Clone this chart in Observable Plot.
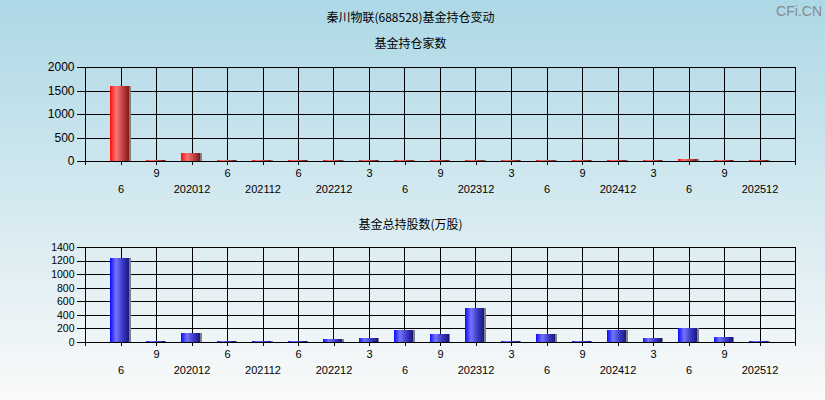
<!DOCTYPE html>
<html><head><meta charset="utf-8">
<script src="https://cdn.jsdelivr.net/npm/d3@7"></script>
<script src="https://cdn.jsdelivr.net/npm/@observablehq/plot@0.6"></script>
<style>
body{margin:0;}
#wrap{position:relative;width:825px;height:400px;background:linear-gradient(to bottom,#add8e6 0%,#fafafa 100%);overflow:hidden;font-family:"Noto Sans CJK SC","Noto Sans",sans-serif;}
.t{position:absolute;left:-2px;width:825px;text-align:center;font-size:12px;line-height:14px;color:#000;}
.wm{position:absolute;right:3px;top:3px;font-family:"Liberation Sans",Arial,sans-serif;font-size:14px;color:#8a8a8a;}
.p{position:absolute;left:0;}
.p line, .p rect, .p path{shape-rendering:crispEdges;}
</style></head>
<body>
<div id="wrap">
  <div class="t" style="top:10px">秦川物联(688528)基金持仓变动</div>
  <div class="t" style="top:36px">基金持仓家数</div>
  <div class="t" style="top:217px">基金总持股数(万股)</div>
  <div class="wm">CFi.CN</div>
  <div class="p" id="c1" style="top:0"></div>
  <div class="p" id="c2" style="top:200px"></div>
</div>
<script>
const periods = ["2020-06","2020-09","2020-12","2021-06","2021-12","2022-06","2022-12","2023-03","2023-06","2023-09","2023-12","2024-03","2024-06","2024-09","2024-12","2025-03","2025-06","2025-09","2025-12"];
const tickLabels = ["6","9","202012","6","202112","6","202212","3","6","9","202312","3","6","9","202412","3","6","9","202512"];
const fundCounts = [1590, 20, 172, 18, 15, 14, 16, 18, 20, 18, 22, 15, 20, 14, 22, 18, 48, 20, 16];
const fundShares = [1240, 14, 130, 12, 12, 12, 48, 65, 184, 116, 500, 12, 116, 12, 183, 63, 205, 80, 12];
const countTicks = [0, 500, 1000, 1500, 2000];
const shareTicks = [0, 200, 400, 600, 800, 1000, 1200, 1400];

const gradients = {
  gRed: [["0%","#ff0d0d"],["28%","#ff7474"],["60%","#c44444"],["93%","#7c1616"],["93%","#808080"],["100%","#808080"]],
  gBlue: [["0%","#0d0dff"],["28%","#7474ff"],["60%","#3a3ac4"],["93%","#16167c"],["93%","#808080"],["100%","#808080"]]
};

function chart(values, yMax, yTicks, grad, h, mt, mb, yFont) {
  const data = periods.map((p, i) => ({p, v: values[i], label: tickLabels[i], row: i % 2}));
  const plot = Plot.plot({
    width: 825, height: h,
    marginLeft: 85, marginRight: 30, marginTop: mt, marginBottom: mb,
    style: {background: "transparent", color: "#000", fontFamily: '"Liberation Sans", Arial, sans-serif', overflow: "visible"},
    x: {type: "band", domain: periods, paddingInner: 0.42, paddingOuter: 0.71, round: false},
    y: {domain: [0, yMax]},
    marks: [
      Plot.ruleY(yTicks, {stroke: "#000"}),
      Plot.ruleX(periods, {stroke: "#000"}),
      Plot.barY(data, {x: "p", y: "v", fill: `url(#${grad})`}),
      Plot.frame({stroke: "#000"}),
      Plot.axisY({ticks: yTicks, tickSize: 8, tickPadding: 3, fontSize: yFont, label: null, tickFormat: d => String(d)}),
      Plot.axisX({tickSize: 4, tickFormat: () => "", label: null}),
      Plot.text(data.filter(d => d.row === 1), {x: "p", text: "label", frameAnchor: "bottom", dy: 15, fontSize: 11}),
      Plot.text(data.filter(d => d.row === 0), {x: "p", text: "label", frameAnchor: "bottom", dy: 31, fontSize: 11})
    ]
  });
  const svg = d3.select(plot);
  const defs = svg.insert("defs", ":first-child");
  const lg = defs.append("linearGradient").attr("id", grad).attr("x1", "0").attr("x2", "1").attr("y1", "0").attr("y2", "0");
  gradients[grad].forEach(([o, c]) => lg.append("stop").attr("offset", o).attr("stop-color", c));
  const xr = plot.scale("x").range;
  svg.append("g").selectAll("line").data(xr).join("line")
    .attr("x1", d => d + 0.5).attr("x2", d => d + 0.5)
    .attr("y1", h - mb).attr("y2", h - mb + 4)
    .attr("stroke", "#000");
  return plot;
}

document.getElementById("c1").appendChild(chart(fundCounts, 2000, countTicks, "gRed", 200, 67, 39, 12));
document.getElementById("c2").appendChild(chart(fundShares, 1400, shareTicks, "gBlue", 200, 47, 58, 10.5));
</script>
</body></html>
